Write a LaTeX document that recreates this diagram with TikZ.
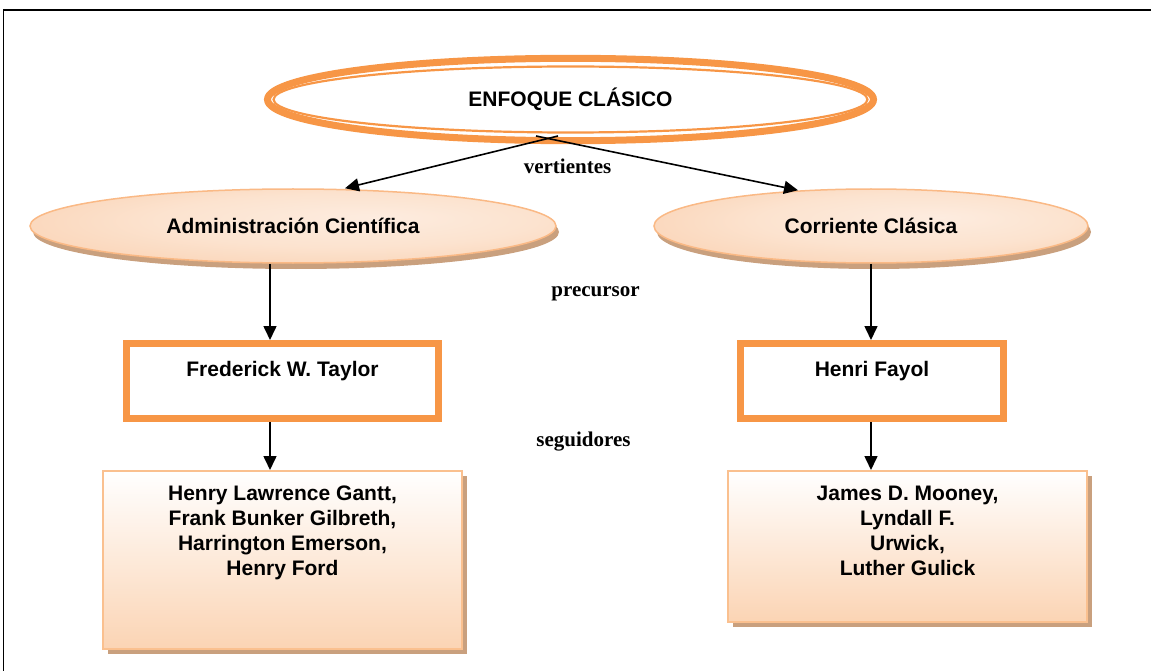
\documentclass[tikz,border=0pt]{standalone}
\usepackage{fontspec}
\setmainfont{Liberation Sans}
\newfontfamily\labelfont{Liberation Serif}
\usetikzlibrary{shapes.geometric,arrows.meta,shadows}

\definecolor{accent}{HTML}{F79646}
\definecolor{peachedge}{HTML}{FAB985}
\definecolor{boxedge}{HTML}{FAC08F}
\definecolor{boxbottom}{HTML}{FBD4B4}
\definecolor{shadowtan}{HTML}{C9A07E}

% soft peach glow for the two branch ovals
\pgfdeclareradialshading{peachglow}{\pgfpoint{8bp}{6bp}}{%
  rgb(0bp)=(0.992,0.925,0.875);
  rgb(18bp)=(0.988,0.890,0.812);
  rgb(50bp)=(0.973,0.765,0.608)}

\tikzset{
  frameline/.style={line width=1.5pt, black},
  bigtext/.style={font=\fontsize{21}{25}\selectfont\bfseries},
  topoval/.style={ellipse, draw=accent, line width=7pt, inner sep=0pt,
    minimum width=606pt, minimum height=82.4pt, bigtext},
  innerring/.style={draw=accent, line width=2.2pt},
  branch/.style={ellipse, draw=peachedge, line width=1.5pt, shading=peachglow,
    inner sep=0pt, minimum height=74pt, bigtext,
    drop shadow={shadow xshift=3pt, shadow yshift=-6pt, fill=shadowtan, opacity=1}},
  founder/.style={rectangle, draw=accent, line width=7pt, fill=white,
    minimum height=75pt, inner sep=0pt},
  followers/.style={rectangle, draw=boxedge, line width=2pt,
    top color=white, bottom color=boxbottom, inner sep=0pt,
    drop shadow={shadow xshift=5pt, shadow yshift=-5pt, fill=shadowtan, opacity=1}},
  names/.style={bigtext, align=center, inner sep=0pt},
  link/.style={line width=1.6pt, -{Triangle[length=14pt,width=13pt]}},
  verb/.style={font=\labelfont\fontsize{21}{25}\selectfont\bfseries, inner sep=0pt},
}

\begin{document}
\begin{tikzpicture}[x=1pt,y=-1pt]
\useasboundingbox (0,0) rectangle (1151,671);

% page frame
\draw[frameline] (3.5,671) -- (3.5,10) -- (1151,10);

% title oval with its double ring
\node[topoval] (enf) at (570.5,99.5) {ENFOQUE CLÁSICO};
\draw[innerring] (enf.center) ellipse [x radius=297pt, y radius=33pt];

% the two branches
\node[branch, minimum width=526pt] (adm) at (293,226) {Administración Científica};
\node[branch, minimum width=434pt] (cor) at (871,226) {Corriente Clásica};

% founders
\node[founder, minimum width=312pt] (tay) at (282.5,381) {};
\node[bigtext, anchor=base, inner sep=0pt] (tayname) at (282.5,376) {Frederick W. Taylor};
\node[founder, minimum width=263pt] (fay) at (872,381) {};
\node[bigtext, anchor=base, inner sep=0pt] (fayname) at (872,376) {Henri Fayol};

% followers
\node[followers, minimum width=359pt, minimum height=178pt] (folL) at (282.5,560) {};
\node[names, anchor=north] (folLnames) at (282.5,485.7)
  {Henry Lawrence Gantt,\\Frank Bunker Gilbreth,\\Harrington Emerson,\\Henry Ford};
\node[followers, minimum width=359pt, minimum height=151pt] (folR) at (907.5,546.5) {};
\node[names, anchor=north] (folRnames) at (907.5,485.7)
  {James D. Mooney,\\Lyndall F.\\Urwick,\\Luther Gulick};

% connectors
\coordinate (forkL) at (558,136);
\coordinate (forkR) at (536,136);
\draw[link] (forkL) -- ([xshift=52pt]adm.north);
\draw[link] (forkR) -- ([xshift=-73pt, yshift=-2pt]cor.north);

\coordinate (lx) at (270,0);
\coordinate (rx) at (871,0);
\draw[link] (adm.south -| lx) -- (tay.north -| lx);
\draw[link] (tay.south -| lx) -- (folL.north -| lx);
\draw[link] (cor.south -| rx) -- (fay.north -| rx);
\draw[link] (fay.south -| rx) -- (folR.north -| rx);

% relation labels
\node[verb, anchor=base] (vert) at (567.5,174) {vertientes};
\node[verb, anchor=base] (prec) at (595.5,296) {precursor};
\node[verb, anchor=base] (seg) at (583.5,446) {seguidores};
\end{tikzpicture}
\end{document}
